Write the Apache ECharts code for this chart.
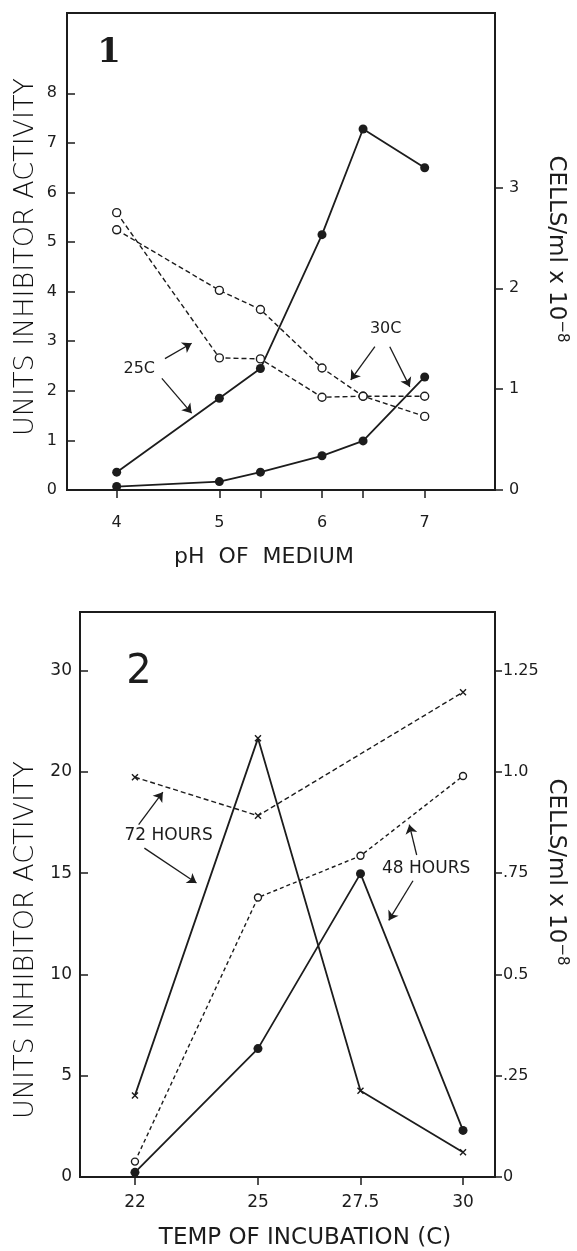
<!DOCTYPE html>
<html>
<head>
<meta charset="utf-8">
<script src="https://cdn.jsdelivr.net/npm/echarts@6/dist/echarts.min.js"></script>
<style>
html,body{margin:0;padding:0;background:#fff;}
#c{width:577px;height:1251px;}
</style>
</head>
<body>
<div id="c"></div>
<script>
// ---------- Figure 1 data ----------
const phValues = [4, 5, 5.4, 6, 6.4, 7];
const phTickValues = [4, 5, 5.4, 6, 6.4, 7];
const phLabelValues = [4, 5, 6, 7];
const inhibitor25C = [0.36, 1.85, 2.45, 5.15, 7.28, 6.50];
const inhibitor30C = [0.07, 0.17, 0.36, 0.69, 0.99, 2.28];
const cells25C = [2.75, 1.31, 1.30, 0.92, 0.93, 0.93];
const cells30C = [2.58, 1.98, 1.79, 1.21, 0.93, 0.73];
const fig1LeftTicks = [0, 1, 2, 3, 4, 5, 6, 7, 8];
const fig1RightTicks = [0, 1, 2, 3];
// annotation anchors (data space): [x1, y1, x2, y2, curveness]
const fig1Arrows = [[4.47, 2.65, 4.73, 2.96, 0], [4.44, 2.25, 4.73, 1.55, 0], [6.515, 2.89, 6.28, 2.22, 0], [6.66, 2.89, 6.855, 2.08, 0]];
const fig1Labels = [['25C', 4.22, 2.45], ['30C', 6.62, 3.26]];

// ---------- Figure 2 data ----------
const tempValues = [22, 25, 27.5, 30];
const tempTickLabels = ['22', '25', '27.5', '30'];
const inhibitor72h = [4.03, 21.66, 4.26, 1.22];
const inhibitor48h = [0.23, 6.34, 14.98, 2.30];
const cells72hTemps = [22, 25, 30];
const cells72h = [0.987, 0.892, 1.197];
const cells48h = [0.038, 0.69, 0.793, 0.99];
const fig2LeftTickValues = [0, 5, 10, 15, 20, 25];
const fig2LeftTickLabels = ['0', '5', '10', '15', '20', '30'];
const fig2RightTickValues = [0, 0.25, 0.5, 0.75, 1.0, 1.25];
const fig2RightTickLabels = ['0', '.25', '0.5', '.75', '1.0', '1.25'];
const fig2Arrows = [[22.09, 17.4, 22.68, 19.0, 0], [22.23, 16.24, 23.5, 14.52, -0.3], [28.87, 15.9, 28.69, 17.4, 0], [28.78, 14.63, 28.19, 12.67, 0]];
const fig2Labels = [['72 HOURS', 22.82, 16.87], ['48 HOURS', 29.1, 15.25]];

const INK = '#1c1c1c';
const FONT = '"DejaVu Sans", sans-serif';

function pairs(xs, ys) { return xs.map((x, i) => [x, ys[i]]); }

function arrowLines(list) {
  return list.map(a => [
    { coord: [a[0], a[1]], lineStyle: { color: INK, width: 1.3, type: 'solid', curveness: a[4] } },
    { coord: [a[2], a[3]], lineStyle: { color: INK, width: 1.3, type: 'solid', curveness: a[4] } }
  ]);
}
function textPoints(list, size) {
  return list.map(l => ({
    coord: [l[1], l[2]], symbol: 'circle', symbolSize: 1,
    itemStyle: { color: 'rgba(0,0,0,0)' },
    label: { show: true, position: 'inside', formatter: l[0], color: INK, fontSize: size, fontFamily: FONT }
  }));
}

const filledDot = { symbol: 'circle', symbolSize: 9, itemStyle: { color: INK, borderWidth: 0 } };
const openDot = { symbol: 'circle', symbolSize: 8, itemStyle: { color: '#fff', borderColor: INK, borderWidth: 1.4 } };
const crossMark = { symbol: 'path://M0,0L10,10M10,0L0,10', symbolSize: 6, itemStyle: { color: 'none', borderColor: INK, borderWidth: 1.4 } };

function baseValueAxis(extra) {
  return Object.assign({
    type: 'value',
    splitLine: { show: false },
    axisLine: { show: true, onZero: false, lineStyle: { color: INK, width: 2 } },
    axisTick: { show: true, lineStyle: { color: INK, width: 1.5 } },
    axisLabel: { color: INK, fontFamily: FONT, fontSize: 16 }
  }, extra);
}

function arrowMarkLine(list) {
  return {
    silent: true, symbol: ['none', 'arrow'], symbolSize: 9,
    lineStyle: { color: INK, width: 1.3, type: 'solid' },
    itemStyle: { color: INK },
    label: { show: false },
    emphasis: { disabled: true },
    data: arrowLines(list)
  };
}

const chart = echarts.init(document.getElementById('c'), null, { renderer: 'canvas' });

const option = {
  backgroundColor: '#fff',
  animation: false,
  grid: [
    { left: 67, right: 82, top: 13, height: 477, show: true, borderColor: INK, borderWidth: 2, backgroundColor: 'transparent' },
    { left: 80, right: 82, top: 612, height: 565, show: true, borderColor: INK, borderWidth: 2, backgroundColor: 'transparent' }
  ],
  xAxis: [
    baseValueAxis({
      gridIndex: 0, min: 3.516, max: 7.685,
      axisTick: { show: true, inside: false, length: 8, customValues: phTickValues, lineStyle: { color: INK, width: 1.5 } },
      axisLabel: { color: INK, fontFamily: FONT, fontSize: 16, margin: 25, customValues: phLabelValues, formatter: v => String(v) }
    }),
    baseValueAxis({
      gridIndex: 1, min: 20.66, max: 30.78,
      axisTick: { show: true, inside: false, length: 8, customValues: tempValues, lineStyle: { color: INK, width: 1.5 } },
      axisLabel: { color: INK, fontFamily: FONT, fontSize: 17, margin: 17, customValues: tempValues,
        formatter: v => tempTickLabels[tempValues.indexOf(v)] }
    })
  ],
  yAxis: [
    baseValueAxis({
      gridIndex: 0, min: 0, max: 9.62, position: 'left',
      axisTick: { show: true, inside: true, length: 8, customValues: fig1LeftTicks, lineStyle: { color: INK, width: 1.5 } },
      axisLabel: { color: INK, fontFamily: FONT, fontSize: 16, margin: 10, customValues: fig1LeftTicks }
    }),
    baseValueAxis({
      gridIndex: 0, min: 0, max: 4.73, position: 'right',
      axisTick: { show: true, inside: false, length: 8, customValues: fig1RightTicks, lineStyle: { color: INK, width: 1.5 } },
      axisLabel: { color: INK, fontFamily: FONT, fontSize: 16, margin: 14, customValues: fig1RightTicks }
    }),
    baseValueAxis({
      gridIndex: 1, min: 0, max: 27.9, position: 'left',
      axisTick: { show: true, inside: true, length: 8, customValues: fig2LeftTickValues, lineStyle: { color: INK, width: 1.5 } },
      axisLabel: { color: INK, fontFamily: FONT, fontSize: 17, margin: 8, customValues: fig2LeftTickValues,
        formatter: v => fig2LeftTickLabels[fig2LeftTickValues.indexOf(v)] }
    }),
    baseValueAxis({
      gridIndex: 1, min: 0, max: 1.395, position: 'right',
      axisTick: { show: true, inside: false, length: 7, customValues: fig2RightTickValues, lineStyle: { color: INK, width: 1.5 } },
      axisLabel: { color: INK, fontFamily: FONT, fontSize: 16, margin: 8, customValues: fig2RightTickValues,
        formatter: v => fig2RightTickLabels[fig2RightTickValues.findIndex(t => Math.abs(t - v) < 1e-9)] }
    })
  ],
  series: [
    Object.assign({
      name: 'Inhibitor 25C', type: 'line', xAxisIndex: 0, yAxisIndex: 0,
      data: pairs(phValues, inhibitor25C),
      lineStyle: { color: INK, width: 1.8 },
      markLine: arrowMarkLine(fig1Arrows),
      markPoint: { silent: true, data: textPoints(fig1Labels, 16) }
    }, filledDot),
    Object.assign({
      name: 'Inhibitor 30C', type: 'line', xAxisIndex: 0, yAxisIndex: 0,
      data: pairs(phValues, inhibitor30C),
      lineStyle: { color: INK, width: 1.8 }
    }, filledDot),
    Object.assign({
      name: 'Cells 25C', type: 'line', xAxisIndex: 0, yAxisIndex: 1,
      data: pairs(phValues, cells25C),
      lineStyle: { color: INK, width: 1.4, type: [5, 3] }
    }, openDot),
    Object.assign({
      name: 'Cells 30C', type: 'line', xAxisIndex: 0, yAxisIndex: 1,
      data: pairs(phValues, cells30C),
      lineStyle: { color: INK, width: 1.4, type: [5, 3] }
    }, openDot),
    Object.assign({
      name: 'Inhibitor 72 h', type: 'line', xAxisIndex: 1, yAxisIndex: 2,
      data: pairs(tempValues, inhibitor72h),
      lineStyle: { color: INK, width: 1.8 },
      markLine: arrowMarkLine(fig2Arrows),
      markPoint: { silent: true, data: textPoints(fig2Labels, 17) }
    }, crossMark),
    Object.assign({
      name: 'Inhibitor 48 h', type: 'line', xAxisIndex: 1, yAxisIndex: 2,
      data: pairs(tempValues, inhibitor48h),
      lineStyle: { color: INK, width: 1.8 }
    }, filledDot),
    Object.assign({
      name: 'Cells 72 h', type: 'line', xAxisIndex: 1, yAxisIndex: 3,
      data: pairs(cells72hTemps, cells72h),
      lineStyle: { color: INK, width: 1.4, type: [5, 3] }
    }, crossMark),
    Object.assign({
      name: 'Cells 48 h', type: 'line', xAxisIndex: 1, yAxisIndex: 3,
      data: pairs(tempValues, cells48h),
      lineStyle: { color: INK, width: 1.4, type: [4, 3] }
    }, openDot, { symbolSize: 7 })
  ],
  graphic: [
    { type: 'text', x: 109, y: 53, style: { text: '1', font: 'bold 34px "DejaVu Serif", serif', fill: INK, textAlign: 'center', textVerticalAlign: 'middle' } },
    { type: 'text', x: 139, y: 673, style: { text: '2', font: '40px "DejaVu Sans", sans-serif', fill: INK, textAlign: 'center', textVerticalAlign: 'middle' } },
    { type: 'text', x: 26, y: 257, rotation: Math.PI / 2, style: { text: 'UNITS INHIBITOR ACTIVITY', font: '300 27px "DejaVu Sans", sans-serif', fill: '#111', textAlign: 'center', textVerticalAlign: 'middle' } },
    { type: 'text', x: 26, y: 940, rotation: Math.PI / 2, style: { text: 'UNITS INHIBITOR ACTIVITY', font: '300 27px "DejaVu Sans", sans-serif', fill: '#111', textAlign: 'center', textVerticalAlign: 'middle' } },
    { type: 'text', x: 556, y: 249, rotation: -Math.PI / 2, style: { text: '{a|CELLS/ml x 10}{b|−8}', fill: INK, textAlign: 'center', textVerticalAlign: 'middle',
        rich: { a: { fontSize: 23, fontFamily: FONT, fill: INK }, b: { fontSize: 15, fontFamily: FONT, fill: INK, padding: [0, 0, 12, 0] } } } },
    { type: 'text', x: 556, y: 872, rotation: -Math.PI / 2, style: { text: '{a|CELLS/ml x 10}{b|−8}', fill: INK, textAlign: 'center', textVerticalAlign: 'middle',
        rich: { a: { fontSize: 23, fontFamily: FONT, fill: INK }, b: { fontSize: 15, fontFamily: FONT, fill: INK, padding: [0, 0, 12, 0] } } } },
    { type: 'text', x: 264, y: 557, style: { text: 'pH  OF  MEDIUM', font: '22px "DejaVu Sans", sans-serif', fill: INK, textAlign: 'center', textVerticalAlign: 'middle' } },
    { type: 'text', x: 305, y: 1238, style: { text: 'TEMP OF INCUBATION (C)', font: '23px "DejaVu Sans", sans-serif', fill: INK, textAlign: 'center', textVerticalAlign: 'middle' } }
  ]
};
chart.setOption(option);
</script>
</body>
</html>
